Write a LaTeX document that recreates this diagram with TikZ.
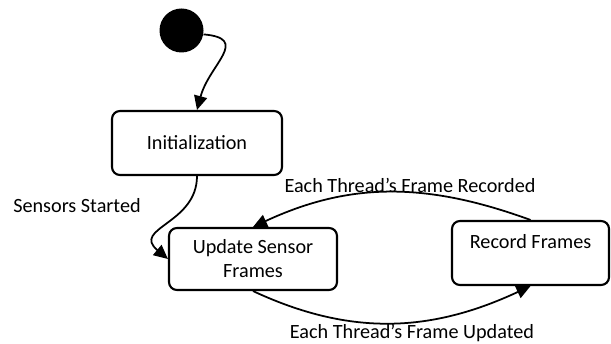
\documentclass[tikz,border=0pt]{standalone}
\usepackage{fontspec}
\setmainfont{Carlito}
\usetikzlibrary{arrows.meta, positioning}
\tikzset{
    state/.style={draw, rounded corners=4.5pt, line width=1.2pt, align=center,
        minimum width=3.4cm, minimum height=1.28cm, font=\fontsize{11.5}{13.6}\selectfont},
    trans/.style={line width=1pt, -{Triangle[length=8pt, width=7.5pt]}},
    translabel/.style={font=\fontsize{11.5}{13.6}\selectfont}
}

\begin{document}
\begin{tikzpicture}
        \useasboundingbox (0, 0) rectangle (12.22, -6.88);

        \node[circle, fill=black, minimum size=0.88cm, inner sep=0pt] (start) at (3.63, -0.61) {};
        \node[state] (init) at (3.94, -2.86) {Initialization};
        \node[state, minimum width=3.36cm, minimum height=1.24cm] (update) at (5.06, -5.18) {Update Sensor\\Frames};
        \node[state, minimum width=3.14cm, text depth=0.45cm] (record) at (10.61, -5.06) {Record Frames};

        \node[translabel] (lstarted) at (1.54, -4.12) {Sensors Started};
        \node[translabel] (lrecorded) at (8.2, -3.7) {Each Thread’s Frame Recorded};
        \node[translabel] (lupdated) at (8.24, -6.66) {Each Thread’s Frame Updated};

        \draw [trans] (start.-10) to [out=-5, in=75, looseness=1.6] (init.north);
        \draw [trans] (init.south) to [out=-90, in=140, looseness=1.4] (update.west);
        \draw [trans] (record.north) to [out=160, in=25] (update.north);
        \draw [trans] (update.south) to [out=-25, in=-155] (record.south);

    \end{tikzpicture}
\end{document}
